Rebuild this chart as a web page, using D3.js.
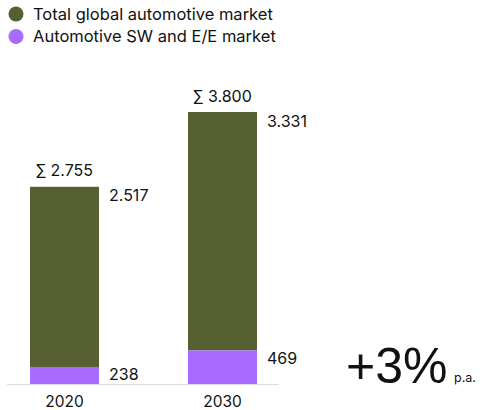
<!DOCTYPE html>
<html><head><meta charset="utf-8">
<script src="https://cdn.jsdelivr.net/npm/d3@7"></script>
<style>body{margin:0;background:#fff;} svg{display:block;font-family:Inter,"Liberation Sans",Arial,sans-serif;}</style>
</head><body>
<svg id="c" width="483" height="410"></svg>
<script>
const years = ["2020", "2030"];
const swEe = [238, 469];
const totalRest = [2517, 3331];
const totals = ["∑ 2.755", "∑ 3.800"];
const restLabels = ["2.517", "3.331"];
const swLabels = ["238", "469"];
const seriesNames = ["Total global automotive market", "Automotive SW and E/E market"];
const colors = ["#565f30", "#a96bff"];
const growth = "+3%";
const growthUnit = "p.a.";

const svg = d3.select("#c");
const x = d3.scalePoint().domain(years).range([64.5, 222.5]);
const y = d3.scaleLinear().domain([0, 3800]).range([384, 112]);

// legend
const lg = svg.append("g");
seriesNames.forEach((n, i) => {
  lg.append("circle").attr("cx", 16).attr("cy", 14 + i * 22.5).attr("r", 7.5).attr("fill", colors[i]);
  lg.append("text").attr("x", 33).attr("y", 14 + i * 22.5).attr("dy", "0.35em")
    .attr("font-size", 16.5).attr("fill", "#111").text(n);
});

// axis line
svg.append("line").attr("x1", 7).attr("x2", 279).attr("y1", 384.5).attr("y2", 384.5)
  .attr("stroke", "#dcdcdc").attr("stroke-width", 1);

const bw = 69;
years.forEach((yr, i) => {
  const cx = x(yr);
  const x0 = cx - bw / 2;
  const sw = swEe[i], tot = swEe[i] + totalRest[i];
  svg.append("rect").attr("x", x0).attr("width", bw).attr("y", y(tot)).attr("height", y(sw) - y(tot)).attr("fill", colors[0]);
  svg.append("rect").attr("x", x0).attr("width", bw).attr("y", y(sw)).attr("height", y(0) - y(sw)).attr("fill", colors[1]);
  svg.append("text").attr("x", cx).attr("y", y(tot) - 16).attr("dy", "0.35em").attr("text-anchor", "middle")
    .attr("font-size", 16).attr("fill", "#111").text(totals[i]);
  svg.append("text").attr("x", x0 + bw + 10).attr("y", y(tot) + 9).attr("dy", "0.35em")
    .attr("font-size", 16).attr("fill", "#111").text(restLabels[i]);
  svg.append("text").attr("x", x0 + bw + 10).attr("y", i === 0 ? 374 : y(sw) + 8).attr("dy", "0.35em")
    .attr("font-size", 16).attr("fill", "#111").text(swLabels[i]);
  svg.append("text").attr("x", cx).attr("y", 406.5).attr("text-anchor", "middle")
    .attr("font-size", 15.5).attr("fill", "#111").text(yr);
});

svg.append("text").attr("x", 346).attr("y", 383).attr("font-size", 50)
  .style("font-family", "'Liberation Sans', Arial, sans-serif").attr("fill", "#111").text(growth);
svg.append("text").attr("x", 454).attr("y", 382).attr("font-size", 12.5).attr("fill", "#111").text(growthUnit);
</script>
</body></html>
